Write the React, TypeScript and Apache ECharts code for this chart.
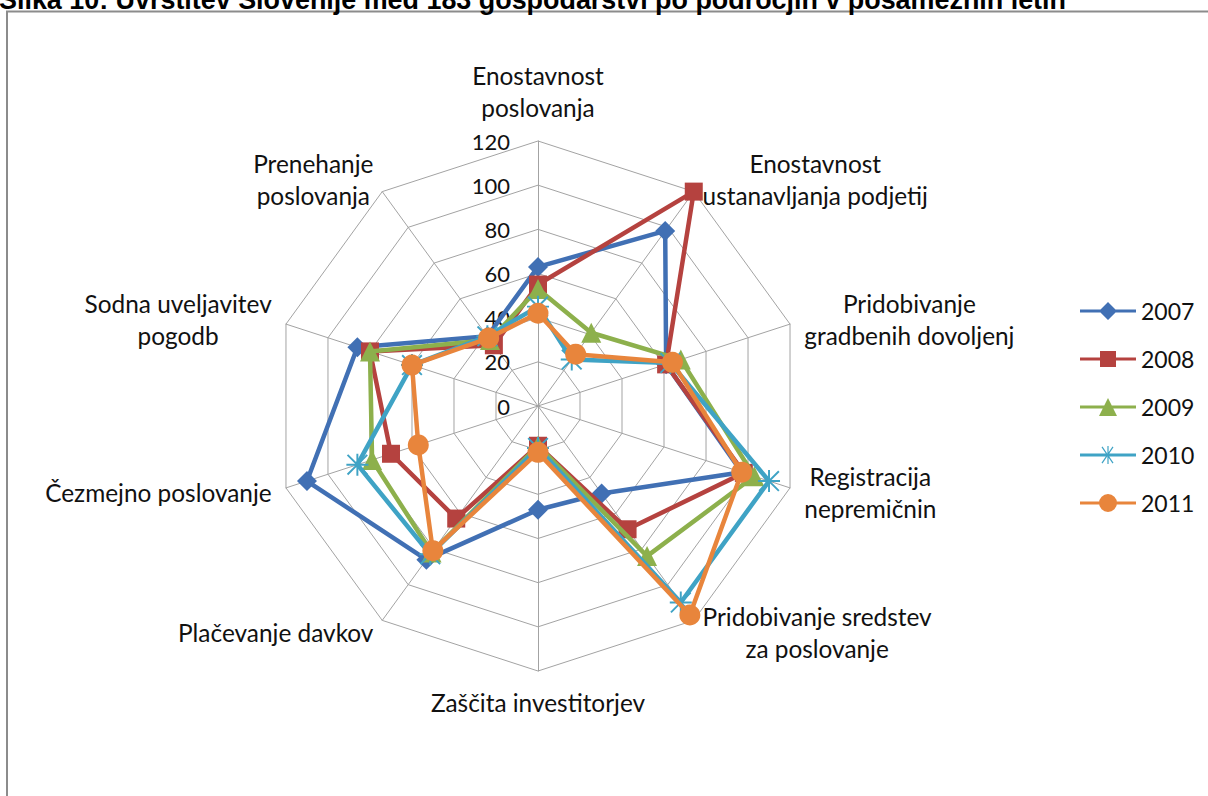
import React, { useEffect, useRef } from "react";
import * as echarts from "echarts";

// Axes in clockwise order, starting at the top
const indicatorNames = [
  "Enostavnost\nposlovanja",
  "Enostavnost\nustanavljanja podjetij",
  "Pridobivanje\ngradbenih dovoljenj",
  "Registracija\nnepremičnin",
  "Pridobivanje sredstev\nza poslovanje",
  "Zaščita investitorjev",
  "Plačevanje davkov",
  "Čezmejno poslovanje",
  "Sodna uveljavitev\npogodb",
  "Prenehanje\nposlovanja",
];

const years = ["2007", "2008", "2009", "2010", "2011"];

const values2007 = [63, 98, 61, 97, 49, 47, 86, 110, 86, 39];
const values2008 = [55, 120, 61, 98, 69, 18, 63, 70, 80, 34];
const values2009 = [53, 41, 68, 103, 84, 18, 82, 79, 80, 37];
const values2010 = [45, 26, 63, 110, 110, 19, 83, 86, 60, 39];
const values2011 = [42, 29, 64, 97, 117, 21, 81, 57, 60, 38];

const seriesValues = [values2007, values2008, values2009, values2010, values2011];

const axisMin = 0;
const axisMax = 120;
const axisSplits = 6;

const titleText =
  "Slika 10: Uvrstitev Slovenije med 183 gospodarstvi po področjih v posameznih letih";

const colors = ["#4170B4", "#B5423F", "#8DB04C", "#3FA3C5", "#E8853C"];

const asteriskPath =
  "path://M8.2,0 L9.8,0 L9.8,18 L8.2,18 Z M0,8.2 L18,8.2 L18,9.8 L0,9.8 Z M1.5,0.4 L17.6,16.5 L16.5,17.6 L0.4,1.5 Z M16.5,0.4 L17.6,1.5 L1.5,17.6 L0.4,16.5 Z";

const seriesSymbols = ["diamond", "rect", "triangle", asteriskPath, "circle"];
const seriesSymbolSizes = [20, 18, 20, 22, 21];

const lineRect = "M0,7.5 L56,7.5 L56,10.5 L0,10.5 Z";
const legendIcons = [
  "path://" + lineRect + " M28,0 L37,9 L28,18 L19,9 Z",
  "path://" + lineRect + " M20,1 L36,1 L36,17 L20,17 Z",
  "path://" + lineRect + " M28,0 L37,18 L19,18 Z",
  "path://" +
    lineRect +
    " M27.4,0 L28.6,0 L28.6,18 L27.4,18 Z M22.5,0.5 L33.5,16.8 L32.5,17.5 L21.5,1.2 Z M32.5,0.5 L33.5,1.2 L22.5,17.5 L21.5,16.8 Z",
  "path://" + lineRect + " M19,9 A9,9 0 1,1 37,9 A9,9 0 1,1 19,9 Z",
];

const FONT = "Lato";

export default function App() {
  const ref = useRef<HTMLDivElement>(null);

  useEffect(() => {
    if (!ref.current) return;
    const chart = echarts.init(ref.current, undefined, { renderer: "svg" });

    // ECharts places indicators counter-clockwise; reorder for clockwise layout
    const n = indicatorNames.length;
    const order = [0, ...Array.from({ length: n - 1 }, (_, i) => n - 1 - i)];

    const indicator = order.map((idx, k) => ({
      name: indicatorNames[idx],
      min: axisMin,
      max: axisMax,
      ...(k === 0
        ? {
            nameGap: 18,
            axisLabel: {
              show: true,
              color: "#111",
              fontSize: 22,
              fontFamily: FONT,
              margin: 28,
              showMinLabel: true,
              showMaxLabel: true,
            },
          }
        : {}),
    }));

    const series = years.map((y, i) => ({
      name: y,
      type: "radar",
      z: 2 + i,
      symbol: seriesSymbols[i],
      symbolSize: seriesSymbolSizes[i],
      lineStyle: { color: colors[i], width: 4.5, cap: "round", join: "round" },
      itemStyle: { color: colors[i], borderWidth: 0 },
      data: [{ name: y, value: order.map((idx) => seriesValues[i][idx]) }],
    }));

    chart.setOption({
      animation: false,
      backgroundColor: "#ffffff",
      graphic: [
        {
          type: "rect",
          shape: { x: 7, y: 11.5, width: 1400, height: 1000 },
          style: { fill: "none", stroke: "#8c8c8c", lineWidth: 2 },
          silent: true,
          z: 0,
        },
        {
          type: "text",
          x: -1,
          y: 0,
          style: {
            text: titleText,
            font: 'bold 26.9px "Liberation Sans", Arial, sans-serif',
            fill: "#000",
            verticalAlign: "middle",
            align: "left",
          },
          silent: true,
        },
      ],
      legend: {
        orient: "vertical",
        left: 1080,
        top: 299,
        padding: 0,
        itemWidth: 56,
        itemHeight: 18,
        itemGap: 24,
        textStyle: { fontSize: 23, fontFamily: FONT, color: "#111", lineHeight: 24 },
        data: years.map((y, i) => ({
          name: y,
          icon: legendIcons[i],
          itemStyle: { color: colors[i], borderWidth: 0 },
        })),
        selectedMode: false,
      },
      radar: {
        center: [538, 406],
        radius: 265,
        startAngle: 90,
        splitNumber: axisSplits,
        shape: "polygon",
        nameGap: 15,
        indicator,
        axisName: {
          color: "#111",
          fontSize: 24.4,
          fontFamily: FONT,
          lineHeight: 32,
          formatter: (name: string) =>
            name
              .split("\n")
              .map((l) => `{c|${l}}`)
              .join("\n"),
          rich: {
            c: { align: "center", fontSize: 24.4, fontFamily: FONT, color: "#111", lineHeight: 32 },
          },
        },
        splitLine: { lineStyle: { color: "#A3A3A3", width: 1 } },
        splitArea: { show: false },
        axisLine: { lineStyle: { color: "#A3A3A3", width: 1 } },
        axisTick: { show: false },
        axisLabel: { show: false },
      },
      series,
    });

    return () => chart.dispose();
  }, []);

  return (
    <div
      ref={ref}
      style={{ position: "fixed", left: 0, top: 0, width: 1208, height: 796, background: "#fff" }}
    />
  );
}
